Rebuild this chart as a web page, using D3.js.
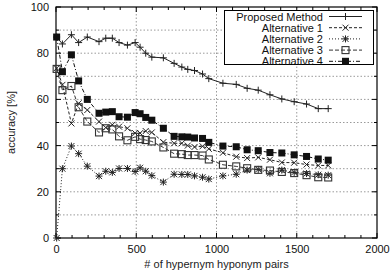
<!DOCTYPE html>
<html><head><meta charset="utf-8">
<script src="https://cdn.jsdelivr.net/npm/d3@7"></script>
<style>body{margin:0;background:#fff}svg{display:block;font-family:"Liberation Sans",Arial,sans-serif}</style>
</head><body><svg id="c" width="390" height="272"></svg>
<script>
const xVals = [4, 40, 96, 141, 195, 268, 310, 351, 393, 445, 493, 524, 559, 597, 669, 736, 784, 821, 863, 913, 952, 1040, 1123, 1191, 1260, 1333, 1407, 1484, 1561, 1634, 1696];
const proposed = [87, 84, 88, 84.6, 87, 85, 86.5, 86.5, 84.6, 83.5, 84.6, 82.6, 80, 78.3, 78, 75.6, 74, 73, 72.5, 71, 69, 67, 66.5, 64.8, 64, 62, 60.2, 59, 58, 56, 56];
const alt1 = [73.5, 66.3, 49.6, 58.3, 55.4, 50.4, 47.8, 49, 48.2, 47.5, 45.4, 45.4, 46.3, 45.7, 41.5, 41, 41, 40, 39.4, 39.7, 38.6, 36.9, 35.2, 34.6, 34.9, 33.9, 32.7, 32.6, 31.8, 31.4, 31.4];
const alt2 = [0, 30, 39.8, 36.5, 31.1, 26.8, 28.9, 28.4, 30.1, 30.1, 28.8, 30.4, 28.9, 27, 24.2, 27.6, 27.5, 27.5, 26.9, 26.3, 25.5, 26.9, 27.6, 29.4, 29.7, 28, 29.4, 28.4, 27.9, 27.4, 27.2];
const alt3 = [73.2, 64, 65.8, 56.6, 50.4, 45.7, 47.5, 47, 44, 42.3, 43.8, 42.8, 42.4, 41.8, 39.2, 36.5, 36.3, 35.9, 35.9, 35.7, 34, 31.7, 31, 30.2, 29.5, 29.2, 28.6, 28.1, 27.2, 26.3, 26.2];
const alt4 = [87, 72, 79.3, 68, 60, 54, 54.5, 54.7, 52.5, 52.3, 54.3, 53.8, 52.2, 51, 47.5, 44, 43.8, 43.7, 43.3, 43.1, 41.4, 39.8, 39.5, 38.2, 37.8, 37, 36.8, 36, 35.3, 34.2, 33.7];
const seriesNames = ["Proposed Method", "Alternative 1", "Alternative 2", "Alternative 3", "Alternative 4"];
const xTicks = [0, 500, 1000, 1500, 2000];
const yTicks = [0, 20, 40, 60, 80, 100];

const svg = d3.select("#c");
const L = 56, R = 377, T = 7, B = 238;
const x = d3.scaleLinear().domain([0, 2000]).range([L, R]);
const y = d3.scaleLinear().domain([0, 100]).range([B, T]);

// grid
const g = svg.append("g");
g.selectAll(".gx").data([500, 1000, 1500]).join("line")
  .attr("x1", d => x(d)).attr("x2", d => x(d)).attr("y1", T).attr("y2", B)
  .attr("stroke", "#9a9a9a").attr("stroke-dasharray", "1.5,2");
g.selectAll(".gy").data(d3.range(10, 100, 10)).join("line")
  .attr("y1", d => y(d)).attr("y2", d => y(d)).attr("x1", L).attr("x2", R)
  .attr("stroke", "#9a9a9a").attr("stroke-dasharray", "1.5,2");

// axes
const xAx = d3.axisBottom(x).tickValues(xTicks).tickFormat(d3.format("d")).tickSize(0).tickPadding(7);
svg.append("g").attr("transform", `translate(0,${B})`).call(xAx)
  .call(s => s.select(".domain").remove())
  .selectAll("text").attr("font-size", 11).attr("fill", "#111").attr("font-family", "Liberation Sans, Arial, sans-serif");
const yAx = d3.axisLeft(y).tickValues(yTicks).tickFormat(d3.format("d")).tickSize(0).tickPadding(7);
svg.append("g").attr("transform", `translate(${L},0)`).call(yAx)
  .call(s => s.select(".domain").remove())
  .selectAll("text").attr("font-size", 11).attr("fill", "#111").attr("font-family", "Liberation Sans, Arial, sans-serif");

// minor/major ticks (inside, mirrored)
const tk = svg.append("g").attr("stroke", "#000");
d3.range(0, 2001, 100).forEach(v => {
  const len = v % 500 === 0 ? 5 : 3;
  tk.append("line").attr("x1", x(v)).attr("x2", x(v)).attr("y1", B).attr("y2", B - len);
  tk.append("line").attr("x1", x(v)).attr("x2", x(v)).attr("y1", T).attr("y2", T + len);
});
d3.range(0, 101, 10).forEach(v => {
  const len = v % 20 === 0 ? 5 : 3;
  tk.append("line").attr("y1", y(v)).attr("y2", y(v)).attr("x1", L).attr("x2", L + len);
  tk.append("line").attr("y1", y(v)).attr("y2", y(v)).attr("x1", R).attr("x2", R - len);
});
svg.append("rect").attr("x", L).attr("y", T).attr("width", R - L).attr("height", B - T)
  .attr("fill", "none").attr("stroke", "#000").attr("stroke-width", 1.2);

svg.append("text").attr("x", (L + R) / 2).attr("y", 268).attr("text-anchor", "middle")
  .attr("font-size", 11).attr("fill", "#222").text("# of hypernym hyponym pairs");
svg.append("text").attr("transform", `translate(15,${(T + B) / 2}) rotate(-90)`).attr("text-anchor", "middle")
  .attr("font-size", 11).attr("fill", "#222").text("accuracy [%]");

// series
const series = [
  {vals: proposed, dash: null, mark: "plus", color: "#222"},
  {vals: alt1, dash: "3,2", mark: "x", color: "#222"},
  {vals: alt2, dash: "1,2", mark: "star", color: "#222"},
  {vals: alt3, dash: "4,2", mark: "osq", color: "#333"},
  {vals: alt4, dash: "4,2,1,2", mark: "fsq", color: "#111"}
];
function drawMark(sel, type, cx, cy, color) {
  const s = 3.5;
  if (type === "plus" || type === "star") {
    sel.append("line").attr("x1", cx - s).attr("x2", cx + s).attr("y1", cy).attr("y2", cy).attr("stroke", color);
    sel.append("line").attr("x1", cx).attr("x2", cx).attr("y1", cy - s).attr("y2", cy + s).attr("stroke", color);
  }
  if (type === "x" || type === "star") {
    const k = 3;
    sel.append("line").attr("x1", cx - k).attr("x2", cx + k).attr("y1", cy - k).attr("y2", cy + k).attr("stroke", color);
    sel.append("line").attr("x1", cx - k).attr("x2", cx + k).attr("y1", cy + k).attr("y2", cy - k).attr("stroke", color);
  }
  if (type === "osq") {
    sel.append("rect").attr("x", cx - 3.5).attr("y", cy - 3.5).attr("width", 7).attr("height", 7)
      .attr("fill", "none").attr("stroke", color).attr("stroke-width", 1.1);
  }
  if (type === "fsq") {
    sel.append("rect").attr("x", cx - 3.5).attr("y", cy - 3.5).attr("width", 7).attr("height", 7).attr("fill", color);
  }
}
const line = d3.line().x(d => x(d[0])).y(d => y(d[1]));
series.forEach(s => {
  const pts = xVals.map((xv, i) => [xv, s.vals[i]]);
  const gg = svg.append("g");
  gg.append("path").attr("d", line(pts)).attr("fill", "none").attr("stroke", s.color)
    .attr("stroke-width", 1).attr("stroke-dasharray", s.dash);
  pts.forEach(p => drawMark(gg, s.mark, x(p[0]), y(p[1]), s.color));
});

// legend
const lg = svg.append("g");
lg.append("rect").attr("x", 224.5).attr("y", 10.5).attr("width", 149).attr("height", 54)
  .attr("fill", "#fff").attr("stroke", "#000").attr("stroke-width", 1);
series.forEach((s, i) => {
  const cy = 16.5 + i * 11.2;
  lg.append("text").attr("x", 323).attr("y", cy + 4).attr("text-anchor", "end")
    .attr("font-size", 11).attr("fill", "#111").text(seriesNames[i]);
  lg.append("line").attr("x1", 329).attr("x2", 362).attr("y1", cy).attr("y2", cy)
    .attr("stroke", s.color).attr("stroke-dasharray", s.dash);
  drawMark(lg, s.mark, 345.5, cy, s.color);
});
</script></body></html>
